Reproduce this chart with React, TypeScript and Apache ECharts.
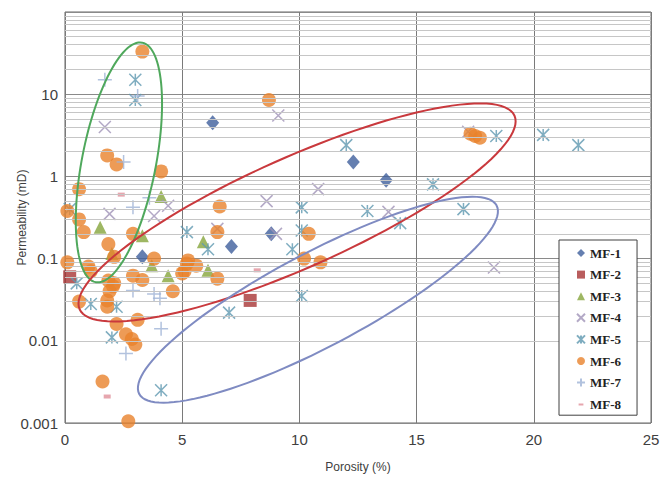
import React, { useEffect, useRef } from "react";
import * as echarts from "echarts";

// ---- data (porosity %, permeability mD) ----
const MF1 = [[6.3, 4.5], [12.3, 1.5], [13.7, 0.9], [8.8, 0.2], [7.1, 0.14], [3.3, 0.105]];
const MF2 = [[0.2, 0.06], [7.9, 0.031]];
const MF3 = [[1.5, 0.24], [2.0, 0.115], [3.3, 0.19], [3.7, 0.082], [4.1, 0.57], [4.4, 0.062], [5.9, 0.16], [6.1, 0.072]];
const MF4 = [[1.7, 4.0], [9.1, 5.5], [10.8, 0.7], [8.6, 0.5], [1.9, 0.35], [3.8, 0.33], [4.4, 0.44], [13.8, 0.37], [17.2, 3.5], [18.3, 0.078], [6.5, 0.23], [9.0, 0.2]];
const MF5 = [[3.0, 15], [3.0, 8.5], [5.2, 0.21], [10.1, 0.42], [10.1, 0.22], [12.0, 2.4], [15.7, 0.8], [18.4, 3.1], [20.4, 3.2], [21.9, 2.4], [17.0, 0.4], [12.9, 0.38], [14.3, 0.27], [10.1, 0.035], [9.7, 0.13], [7.0, 0.022], [6.1, 0.13], [4.1, 0.0025], [2.0, 0.011], [2.2, 0.026], [1.1, 0.028], [0.5, 0.05], [0.2, 0.4]];
const MF6 = [[3.3, 33], [8.7, 8.5], [1.8, 1.8], [2.2, 1.4], [4.1, 1.15], [0.6, 0.7], [0.1, 0.38], [0.6, 0.3], [0.8, 0.21], [2.9, 0.2], [6.6, 0.43], [10.4, 0.2], [6.5, 0.21], [1.85, 0.15], [0.1, 0.09], [1.0, 0.08], [1.1, 0.07], [2.1, 0.105], [3.8, 0.1], [5.2, 0.087], [5.6, 0.082], [5.25, 0.095], [5.0, 0.066], [5.1, 0.07], [6.5, 0.057], [4.6, 0.04], [2.9, 0.062], [3.3, 0.055], [2.1, 0.05], [1.85, 0.054], [2.05, 0.046], [1.9, 0.04], [1.8, 0.031], [1.8, 0.026], [0.6, 0.03], [3.1, 0.018], [2.2, 0.016], [2.6, 0.012], [2.85, 0.0105], [3.0, 0.009], [1.6, 0.0032], [2.7, 0.00105], [10.2, 0.1], [10.9, 0.09], [17.3, 3.3], [17.5, 3.1], [17.7, 2.95]];
const MF7 = [[1.7, 15], [3.1, 9.5], [2.5, 1.5], [2.9, 0.42], [3.6, 0.55], [2.9, 0.041], [3.8, 0.037], [4.05, 0.033], [4.1, 0.014], [2.6, 0.007]];
const MF8 = [[2.4, 0.6], [8.2, 0.072], [1.8, 0.0021]];

const SERIES_NAMES = ["MF-1", "MF-2", "MF-3", "MF-4", "MF-5", "MF-6", "MF-7", "MF-8"];
const X_TICKS = [0, 5, 10, 15, 20, 25];
const Y_DECADES = [0.001, 0.01, 0.1, 1, 10];
const MINOR_MULTIPLIERS = [2, 3, 4, 5, 6, 7, 8, 9];

// ellipse annotations: centers in data units
const ELLIPSE_CENTERS = [[2.3, 1.48], [9.9, 0.364], [10.79, 0.0316]];
// shapes in pixels
const ELLIPSE_SHAPES = [
  { a: 122, b: 37, angle: 101, color: "#4fa85c" },
  { a: 238, b: 55, angle: -24, color: "#c9393d" },
  { a: 202, b: 47, angle: -27.8, color: "#7f8bc2" },
];

const X_PATH = "path://M0,0L10,10M10,0L0,10";
const STAR_PATH = "path://M0,0L10,10M10,0L0,10M5,0L5,10";
const PLUS_PATH = "path://M5,0L5,10M0,5L10,5";
const DASH_ICON = "path://M0,0L0.01,0ZM2,4L8,4L8,6.5L2,6.5ZM10,10L9.99,10Z";

export default function App() {
  const ref = useRef<HTMLDivElement>(null);
  useEffect(() => {
    const chart = echarts.init(ref.current!, null, { renderer: "svg" });
    const minor: number[] = [];
    Y_DECADES.forEach((d) => MINOR_MULTIPLIERS.forEach((m) => minor.push(+(m * d).toPrecision(3))));

    const strokeStyle = (c: string, w: number) => ({ color: "rgba(0,0,0,0)", borderColor: c, borderWidth: w });

    const option: any = {
      animation: false,
      backgroundColor: "#ffffff",
      grid: {
        left: 65,
        top: 12,
        right: 17,
        bottom: 54,
        containLabel: false,
        outerBoundsMode: "none",
        show: true,
        borderColor: "#666666",
        borderWidth: 1,
        backgroundColor: "#ffffff",
      },
      xAxis: {
        type: "value",
        min: X_TICKS[0],
        max: X_TICKS[X_TICKS.length - 1],
        interval: 5,
        name: "Porosity (%)",
        nameLocation: "middle",
        nameGap: 38,
        nameMoveOverlap: false,
        nameTextStyle: { fontFamily: "Liberation Sans", fontSize: 12, color: "#404040" },
        axisLine: { show: false },
        axisTick: { show: false },
        axisLabel: { fontFamily: "Liberation Sans", fontSize: 15, color: "#404040", margin: 9 },
        splitLine: { show: true, lineStyle: { color: "#7a7a7a", width: 1 } },
      },
      yAxis: {
        type: "log",
        logBase: 10,
        min: 0.001,
        max: 100,
        name: "Permeability (mD)",
        nameLocation: "middle",
        nameGap: 37,
        nameMoveOverlap: false,
        nameTextStyle: { fontFamily: "Liberation Sans", fontSize: 12, color: "#404040" },
        axisLine: { show: false },
        axisTick: { show: false },
        axisLabel: {
          fontFamily: "Liberation Sans",
          fontSize: 15,
          color: "#404040",
          margin: 7,
          formatter: (v: number) => (v >= 100 ? "" : String(v)),
        },
        splitLine: { show: true, lineStyle: { color: "#8a8a8a", width: 1 } },
      },
      legend: {
        data: SERIES_NAMES.map((n) => (n === "MF-8" ? { name: n, icon: DASH_ICON } : n)),
        orient: "vertical",
        left: 559,
        top: 240,
        itemWidth: 8,
        itemHeight: 8,
        itemGap: 7.6,
        padding: [6, 16, 4, 17],
        backgroundColor: "#ffffff",
        borderColor: "#404040",
        borderWidth: 1,
        borderRadius: 0,
        textStyle: { fontFamily: "Liberation Serif", fontWeight: "bold", fontSize: 13, color: "#222222", lineHeight: 14 },
        z: 20,
      },
      series: [
        {
          name: "_grid",
          type: "scatter",
          data: [],
          z: 1,
          silent: true,
          markLine: {
            silent: true,
            symbol: ["none", "none"],
            label: { show: false },
            lineStyle: { color: "#c6c6c6", type: "solid", width: 1 },
            emphasis: { disabled: true },
            data: minor.map((v) => ({ yAxis: v })),
          },
        },
        { name: "MF-1", type: "scatter", symbol: "diamond", symbolSize: [13, 15], itemStyle: { color: "#3f5f9c" }, data: MF1 },
        { name: "MF-2", type: "scatter", symbol: "rect", symbolSize: 13, itemStyle: { color: "#a83434" }, data: MF2 },
        { name: "MF-3", type: "scatter", symbol: "triangle", symbolSize: 13, itemStyle: { color: "#86a53c" }, data: MF3 },
        { name: "MF-4", type: "scatter", symbol: X_PATH, symbolSize: 12, itemStyle: strokeStyle("#a094b8", 1.5), data: MF4 },
        { name: "MF-5", type: "scatter", symbol: STAR_PATH, symbolSize: 12, itemStyle: strokeStyle("#5f98b0", 1.5), data: MF5 },
        { name: "MF-6", type: "scatter", symbol: "circle", symbolSize: 14, itemStyle: { color: "#e8822c" }, data: MF6 },
        { name: "MF-7", type: "scatter", symbol: PLUS_PATH, symbolSize: 14, itemStyle: strokeStyle("#9fb3d6", 1.5), data: MF7 },
        { name: "MF-8", type: "scatter", symbol: "rect", symbolSize: [7, 4], itemStyle: { color: "#e0909a" }, data: MF8 },
        {
          name: "_ellipses",
          type: "custom",
          coordinateSystem: "cartesian2d",
          silent: true,
          clip: false,
          z: 10,
          encode: { x: 0, y: 1 },
          data: ELLIPSE_CENTERS,
          renderItem: (params: any, api: any) => {
            const s = ELLIPSE_SHAPES[params.dataIndex];
            const c = api.coord([api.value(0), api.value(1)]);
            const th = (s.angle * Math.PI) / 180;
            const ct = Math.cos(th);
            const st = Math.sin(th);
            const pts: number[][] = [];
            for (let k = 0; k < 120; k++) {
              const t = (2 * Math.PI * k) / 120;
              const ex = s.a * Math.cos(t);
              const ey = s.b * Math.sin(t);
              pts.push([c[0] + ex * ct - ey * st, c[1] + ex * st + ey * ct]);
            }
            return {
              type: "polygon",
              shape: { points: pts },
              style: { fill: "none", stroke: s.color, lineWidth: 2 },
            };
          },
        },
      ],
    };
    chart.setOption(option);
    return () => chart.dispose();
  }, []);
  return <div ref={ref} style={{ position: "fixed", left: 0, top: 0, width: 668, height: 477 }} />;
}
